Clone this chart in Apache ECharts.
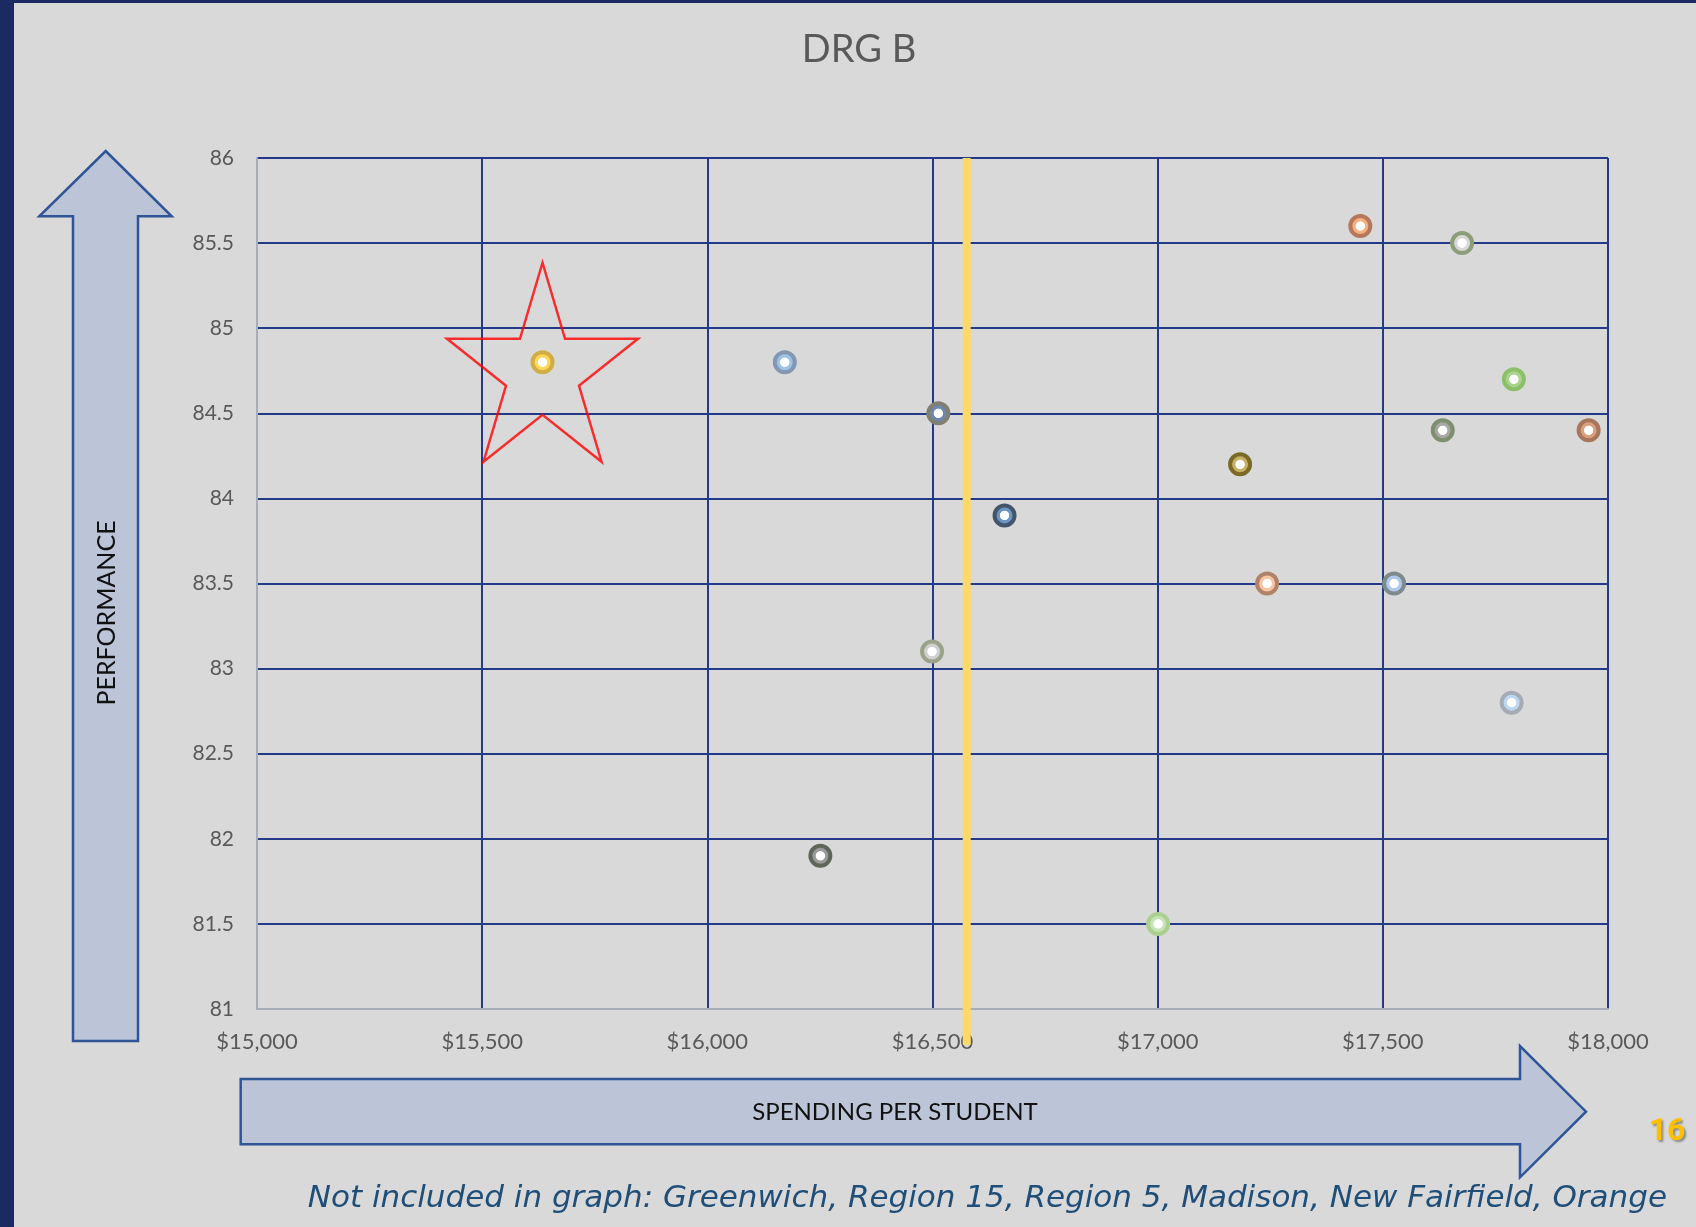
<!DOCTYPE html>
<html>
<head>
<meta charset="utf-8">
<title>DRG B</title>
<script src="https://cdn.jsdelivr.net/npm/echarts@6/dist/echarts.min.js"></script>
<style>
  html, body { margin: 0; padding: 0; background: #D9D9D9; }
  #chart { width: 1696px; height: 1227px; }
</style>
</head>
<body>
<div id="chart"></div>
<script>
// Districts in DRG B: spending per student vs performance index
const spending = [15634, 16172, 16513, 16660, 16499, 16251, 17001, 17183, 17243, 17525, 17450, 17676, 17791, 17633, 17957, 17786];
const performance = [84.8, 84.8, 84.5, 83.9, 83.1, 81.9, 81.5, 84.2, 83.5, 83.5, 85.6, 85.5, 84.7, 84.4, 84.4, 82.8];

// Reference spending level (vertical marker)
const avgSpending = 16576;

// Axis ranges and tick steps
const xMin = 15000, xMax = 18000, xStep = 500;
const yMin = 81, yMax = 86, yStep = 0.5;

// Highlighted district (index into the arrays above)
const highlightIndex = 0;

// Marker colours: outer ring and inner fill for each district
const ringColors = ['#CFAE45', '#8497B0', '#7F8072', '#44546A', '#9AA387', '#5E6658', '#A9D08E', '#7A6A25',
                    '#B0826A', '#7F8A8C', '#B5785A', '#8C9E78', '#8BC068', '#7D8F6E', '#A8765A', '#A5ACB3'];
const fillColors = ['#FFD55A', '#9DC3E6', '#6F86AD', '#6A95C4', '#D0D0D0', '#9A9A9A', '#C9E3B8', '#C8B066',
                    '#F8C6A4', '#AFC8EE', '#F6B080', '#D8D8D8', '#AAD38F', '#A8A8A8', '#D8A07E', '#BCD7F0'];

const labelFont = 'Lato, "Open Sans", sans-serif';
const gridColor = '#24398A';

// Ring marker: coloured fill with a white centre dot
function markerStyle(i) {
  return {
    color: {
      type: 'radial', x: 0.5, y: 0.5, r: 0.5,
      colorStops: [
        { offset: 0, color: '#FFFFFF' },
        { offset: 0.36, color: '#FFFFFF' },
        { offset: 0.42, color: fillColors[i] },
        { offset: 1, color: fillColors[i] }
      ]
    },
    borderColor: ringColors[i],
    borderWidth: 4,
    opacity: 1
  };
}

const points = spending.map((s, i) => ({
  value: [s, performance[i]],
  itemStyle: markerStyle(i)
}));

// Five-pointed star outline used to highlight a district
function starPath() {
  const pts = [];
  for (let k = 0; k < 10; k++) {
    const a = (-90 + 36 * k) * Math.PI / 180;
    const r = k % 2 === 0 ? 100 : 38.2;
    pts.push((r * Math.cos(a)).toFixed(2) + ' ' + (r * Math.sin(a)).toFixed(2));
  }
  return 'path://M' + pts.join(' L') + ' Z';
}

const chart = echarts.init(document.getElementById('chart'), null, { renderer: 'canvas' });

const arrowFill = '#BBC5D7';
const arrowStroke = '#2F5597';

const option = {
  backgroundColor: '#D9D9D9',
  animation: false,
  grid: { left: 257, right: 88, top: 158, bottom: 218, containLabel: false },
  xAxis: {
    type: 'value',
    min: xMin, max: xMax, interval: xStep,
    axisLine: { show: true, onZero: false, lineStyle: { color: '#A9ADBA', width: 2 } },
    axisTick: { show: false },
    splitLine: { show: true, lineStyle: { color: gridColor, width: 2 } },
    axisLabel: {
      margin: 22,
      color: '#595959',
      fontFamily: labelFont,
      fontSize: 22,
      formatter: v => '$' + v.toLocaleString('en-US'),
      showMinLabel: true, showMaxLabel: true
    }
  },
  yAxis: {
    type: 'value',
    min: yMin, max: yMax, interval: yStep,
    axisLine: { show: true, onZero: false, lineStyle: { color: '#A9ADBA', width: 2 } },
    axisTick: { show: false },
    splitLine: { show: true, lineStyle: { color: gridColor, width: 2 } },
    axisLabel: {
      margin: 23,
      color: '#595959',
      fontFamily: labelFont,
      fontSize: 21,
      formatter: v => String(v)
    }
  },
  series: [
    {
      name: 'Reference spending',
      type: 'line',
      data: [[avgSpending, yMax], [avgSpending, yMin - 0.21]],
      symbol: 'none',
      clip: false,
      silent: true,
      z: 3,
      lineStyle: { color: '#FFD966', width: 8 }
    },
    {
      name: 'Highlight',
      type: 'scatter',
      data: [[spending[highlightIndex], performance[highlightIndex]]],
      symbol: starPath(),
      symbolSize: [191, 199],
      silent: true,
      z: 4,
      itemStyle: { color: 'rgba(0,0,0,0)', borderColor: '#FF0000', borderWidth: 2.5 }
    },
    {
      name: 'Districts',
      type: 'scatter',
      data: points,
      symbol: 'circle',
      symbolSize: 20,
      z: 5
    }
  ],
  graphic: [
    // frame bars
    { type: 'rect', left: 0, top: 0, shape: { width: 14, height: 1227 }, style: { fill: '#1B2A60' }, z: 10 },
    { type: 'rect', left: 0, top: 0, shape: { width: 1696, height: 3 }, style: { fill: '#1B2A60' }, z: 10 },
    // title
    {
      type: 'text', x: 859, y: 50, z: 10,
      style: { text: 'DRG B', fill: '#595959', font: '38px ' + labelFont, align: 'center', verticalAlign: 'middle' }
    },
    // vertical arrow (performance)
    {
      type: 'polygon', z: 1,
      shape: { points: [[105.7, 151], [171.7, 216.3], [138, 216.3], [138, 1041], [73, 1041], [73, 216.3], [39.3, 216.3]] },
      style: { fill: arrowFill, stroke: arrowStroke, lineWidth: 2.5 }
    },
    {
      type: 'text', x: 107, y: 613, rotation: Math.PI / 2, z: 10,
      style: { text: 'PERFORMANCE', fill: '#111111', font: '25px ' + labelFont, align: 'center', verticalAlign: 'middle' }
    },
    // horizontal arrow (spending)
    {
      type: 'polygon', z: 1,
      shape: { points: [[240.7, 1079], [1520, 1079], [1520, 1046], [1586, 1111.7], [1520, 1177.3], [1520, 1144.3], [240.7, 1144.3]] },
      style: { fill: arrowFill, stroke: arrowStroke, lineWidth: 2.5 }
    },
    {
      type: 'text', x: 895, y: 1112, z: 10,
      style: { text: 'SPENDING PER STUDENT', fill: '#111111', font: '24px ' + labelFont, align: 'center', verticalAlign: 'middle' }
    },
    // page number
    {
      type: 'text', x: 1667, y: 1132, z: 10,
      style: {
        text: '16', fill: '#FFC000', font: 'bold 32px "Liberation Sans Narrow", Roboto, sans-serif',
        align: 'center', verticalAlign: 'middle',
        textShadowColor: 'rgba(0,0,0,0.35)', textShadowBlur: 2, textShadowOffsetX: 2, textShadowOffsetY: 2
      }
    },
    // footnote
    {
      type: 'text', x: 1667, y: 1199, z: 10,
      style: {
        text: 'Not included in graph: Greenwich, Region 15, Region 5, Madison, New Fairfield, Orange',
        fill: '#1F4E79', font: 'italic 31px "DejaVu Sans", ' + labelFont, align: 'right', verticalAlign: 'middle'
      }
    }
  ]
};

chart.setOption(option);
</script>
</body>
</html>
